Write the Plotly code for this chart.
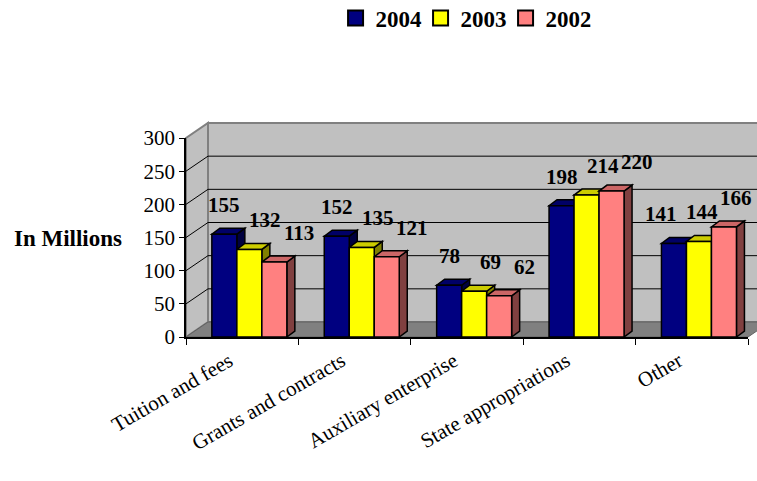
import plotly.graph_objects as go

categories = ["Tuition and fees", "Grants and contracts", "Auxiliary enterprise",
              "State appropriations", "Other"]
years = ["2004", "2003", "2002"]
values_2004 = [155, 152, 78, 198, 141]
values_2003 = [132, 135, 69, 214, 144]
values_2002 = [113, 121, 62, 220, 166]
y_ticks = [0, 50, 100, 150, 200, 250, 300]

series = [values_2004, values_2003, values_2002]
front_colors = ["#000080", "#FFFF00", "#FF8080"]
side_colors = ["#000040", "#808000", "#804040"]
top_colors = ["#000066", "#CCCC00", "#CC6666"]
label_xshift = [0, 16, 25]
LABEL_SIZE = 21

FONT = "Liberation Serif"
W, H = 757, 481
ML, MR, MT, MB = 186, 9, 138, 144
PW, PH = W - ML - MR, H - MT - MB
YMAX = 300
X0, X1 = -0.5, len(categories) - 0.5

def px_x(p):  # pixels -> paper fraction (x)
    return p / PW

def px_y(p):  # pixels -> paper fraction (y)
    return p / PH

WALL_DX, WALL_DY = 22, 15           # depth of the 3D walls in pixels
BAR_DX, BAR_DY = 8, 6               # depth of the bars in pixels
cat_px = PW / (X1 - X0)
bar_w = 25 / cat_px
first_off = -0.27
bdx = BAR_DX / cat_px
bdy = BAR_DY * YMAX / PH

xpos = list(range(len(categories)))

fig = go.Figure()
shapes = []
a, b = px_x(WALL_DX), px_y(WALL_DY)
# back wall
shapes.append(dict(type="rect", xref="paper", yref="paper", layer="below",
                   x0=a, x1=1 + a, y0=b, y1=1 + b,
                   fillcolor="#C0C0C0", line=dict(color="#808080", width=2)))
# side wall
shapes.append(dict(type="path", xref="paper", yref="paper", layer="below",
                   path=f"M 0 0 L 0 1 L {a} {1+b} L {a} {b} Z",
                   fillcolor="#C0C0C0", line=dict(color="#808080", width=2)))
# gridlines on back wall and side wall
for t in y_ticks[1:-1]:
    yy = t / YMAX
    shapes.append(dict(type="line", xref="paper", yref="paper", layer="below",
                       x0=a, x1=1 + a, y0=yy + b, y1=yy + b, line=dict(color="black", width=1)))
    shapes.append(dict(type="line", xref="paper", yref="paper", layer="below",
                       x0=0, x1=a, y0=yy, y1=yy + b, line=dict(color="black", width=1)))
# floor
shapes.append(dict(type="path", xref="paper", yref="paper", layer="below",
                   path=f"M 0 0 L {a} {b} L {1+a} {b} L 1 0 Z",
                   fillcolor="#808080", line=dict(color="#606060", width=1)))

# label positions (keep each category's labels inside the figure, as Excel does)
cat_shift = []
for i in xpos:
    overflow = 0
    for k, vals in enumerate(series):
        cx = ML + (i + first_off + k * bar_w + bar_w / 2 - X0) * cat_px + label_xshift[k]
        half = len(str(vals[i])) * 0.25 * LABEL_SIZE
        overflow = max(overflow, cx + half - (W - 5))
    cat_shift.append(-overflow if overflow > 0 else 0)

annotations = []
for k, (name, vals) in enumerate(zip(years, series)):
    off = first_off + k * bar_w
    fig.add_trace(go.Bar(
        x=xpos, y=vals, name=name, width=bar_w, offset=off, showlegend=False,
        marker=dict(color=front_colors[k], line=dict(color="black", width=1.5)),
    ))
    # legend proxy (square swatch with black border)
    fig.add_trace(go.Scatter(
        x=[None], y=[None], mode="markers", name=name, showlegend=True,
        marker=dict(symbol="square", size=15, color=front_colors[k],
                    line=dict(color="black", width=2)),
    ))
    for i, v in zip(xpos, vals):
        left = i + off
        right = left + bar_w
        # side face
        shapes.append(dict(type="path", xref="x", yref="y", layer="below",
                           path=f"M {right} 0 L {right} {v} L {right+bdx} {v+bdy} L {right+bdx} {bdy} Z",
                           fillcolor=side_colors[k], line=dict(color="black", width=1.5)))
        # top face
        shapes.append(dict(type="path", xref="x", yref="y", layer="below",
                           path=f"M {left} {v} L {right} {v} L {right+bdx} {v+bdy} L {left+bdx} {v+bdy} Z",
                           fillcolor=top_colors[k], line=dict(color="black", width=1.5)))
        annotations.append(dict(x=left + bar_w / 2, y=v, xref="x", yref="y", text=f"<b>{v}</b>",
                                showarrow=False, xanchor="center", yanchor="middle",
                                xshift=label_xshift[k] + cat_shift[i], yshift=29,
                                font=dict(family=FONT, size=LABEL_SIZE, color="black")))

annotations.append(dict(text="<b>In Millions</b>", xref="paper", yref="paper",
                        x=px_x(124 - ML), y=0.497, xanchor="right", yanchor="middle",
                        showarrow=False, font=dict(family=FONT, size=23, color="black")))

fig.update_layout(
    width=W, height=H,
    margin=dict(l=ML, r=MR, t=MT, b=MB),
    paper_bgcolor="white",
    plot_bgcolor="rgba(0,0,0,0)",
    barmode="overlay",
    font=dict(family=FONT, size=21, color="black"),
    legend=dict(orientation="h", x=0.493, xanchor="center", y=1 - 18 / H, yanchor="middle",
                yref="container", font=dict(family=FONT, size=23, weight="bold"),
                itemwidth=30, entrywidth=40, entrywidthmode="pixels", tracegroupgap=0),
    showlegend=True,
    shapes=shapes,
    annotations=annotations,
)
fig.update_yaxes(range=[0, YMAX], tickvals=y_ticks, showgrid=False,
                 showline=True, linecolor="black", linewidth=1.5, ticks="outside",
                 ticklen=5, tickcolor="black", zeroline=False,
                 tickfont=dict(family=FONT, size=21))
fig.update_xaxes(range=[X0, X1], tickvals=xpos, ticktext=categories, tickangle=-30,
                 showgrid=False, zeroline=False,
                 showline=True, linecolor="black", linewidth=1.5, ticks="",
                 minor=dict(tickvals=[i - 0.5 for i in range(len(categories) + 1)],
                            ticks="outside", ticklen=6, tickcolor="black", showgrid=False),
                 ticklabelshift=-13, ticklabelstandoff=2,
                 tickfont=dict(family=FONT, size=21))
fig.write_html("out.html")
